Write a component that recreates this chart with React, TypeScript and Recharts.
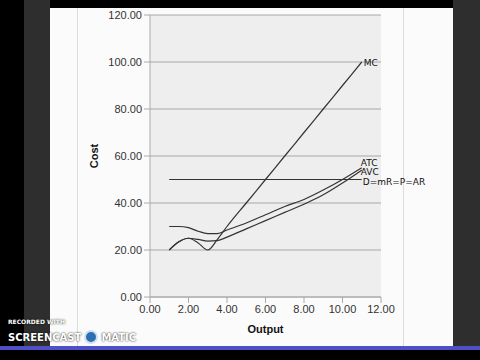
import { LineChart, Line, XAxis, YAxis, CartesianGrid } from "recharts";

// output levels used for the cost curves
const quantities = [1, 1.5, 2, 2.5, 3, 3.5, 4, 5, 6, 7, 8, 9, 10, 11];
const mcValues = [20, 23.5, 25, 23, 20, 24.5, 30, 40, 50, 60, 70, 80, 90, 100];
const atcValues = [30, 30, 29.5, 28, 27, 27, 28.5, 31.5, 35, 38.5, 41.5, 45.5, 50, 55];
const avcValues = [20, 23.5, 25, 24.5, 23.8, 24, 25.5, 29, 32.5, 36, 39.5, 43.5, 48.5, 54];
const demandQ = [1, 11];
const demandP = [50, 50];

const xTicks = [0, 2, 4, 6, 8, 10, 12];
const yTicks = [0, 20, 40, 60, 80, 100, 120];

const toPoints = (qs: number[], vals: number[]) => qs.map((q, i) => ({ q, y: vals[i] }));

const mcData = toPoints(quantities, mcValues);
const atcData = toPoints(quantities, atcValues);
const avcData = toPoints(quantities, avcValues);
const dData = toPoints(demandQ, demandP);

const sans = "'Liberation Sans', Arial, sans-serif";
const hand = { fontFamily: "'DejaVu Sans', sans-serif", fontSize: 9, fill: "#111" };

const endLabel = (text: string, last: number, dx: number, dy: number) => (props: any) => {
  if (props.index !== last) return null;
  return (
    <text x={props.x + dx} y={props.y + dy} style={hand}>
      {text}
    </text>
  );
};

const App = () => {
  return (
    <div
      style={{
        position: "fixed",
        left: 0,
        top: 0,
        width: 480,
        height: 360,
        background: "#000",
        overflow: "hidden",
      }}
    >
      <div style={{ position: "absolute", left: 24, top: 0, width: 26, height: 346, background: "#2e2e2e" }} />
      <div style={{ position: "absolute", left: 453, top: 0, width: 27, height: 346, background: "#2e2e2e" }} />
      <div style={{ position: "absolute", left: 50, top: 8, width: 403, height: 338, background: "#fbfbfb" }} />
      <div style={{ position: "absolute", left: 77, top: 8, width: 1, height: 338, background: "#dcdcdc" }} />
      <div style={{ position: "absolute", left: 403, top: 8, width: 1, height: 338, background: "#dcdcdc" }} />
      <div style={{ position: "absolute", left: 0, top: 346, width: 480, height: 4, background: "#4f4fc8" }} />

      <div style={{ position: "absolute", left: 50, top: 8 }}>
        <LineChart
          width={403}
          height={338}
          margin={{ top: 7, right: 72, bottom: 9, left: 40 }}
        >
          <CartesianGrid vertical={false} stroke="#a8a8a8" fill="#eeeeee" />
          <XAxis
            type="number"
            dataKey="q"
            domain={[0, 12]}
            ticks={xTicks}
            tickFormatter={(v: number) => v.toFixed(2)}
            height={40}
            stroke="#aaa"
            tick={{ fill: "#333", fontSize: 11, fontFamily: sans }}
            label={{
              value: "Output",
              position: "insideBottom",
              offset: 4,
              style: { fill: "#111", fontSize: 11, fontWeight: "bold", fontFamily: sans },
            }}
          />
          <YAxis
            type="number"
            domain={[0, 120]}
            ticks={yTicks}
            tickFormatter={(v: number) => v.toFixed(2)}
            width={60}
            stroke="#aaa"
            tick={{ fill: "#333", fontSize: 11, fontFamily: sans }}
            label={{
              value: "Cost",
              angle: -90,
              position: "insideLeft",
              offset: 4,
              style: { fill: "#111", fontSize: 11, fontWeight: "bold", fontFamily: sans, textAnchor: "middle" },
            }}
          />
          <Line
            data={dData}
            dataKey="y"
            type="linear"
            stroke="#333"
            strokeWidth={1.2}
            dot={false}
            isAnimationActive={false}
            label={endLabel("D=mR=P=AR", demandQ.length - 1, 1, 5)}
          />
          <Line
            data={mcData}
            dataKey="y"
            type="monotone"
            stroke="#333"
            strokeWidth={1.2}
            dot={false}
            isAnimationActive={false}
            label={endLabel("MC", quantities.length - 1, 2, 4)}
          />
          <Line
            data={atcData}
            dataKey="y"
            type="monotone"
            stroke="#333"
            strokeWidth={1.2}
            dot={false}
            isAnimationActive={false}
            label={endLabel("ATC", quantities.length - 1, -1, -2)}
          />
          <Line
            data={avcData}
            dataKey="y"
            type="monotone"
            stroke="#333"
            strokeWidth={1.2}
            dot={false}
            isAnimationActive={false}
            label={endLabel("AVC", quantities.length - 1, -1, 5)}
          />
        </LineChart>
      </div>

      <div
        style={{
          position: "absolute",
          left: 8,
          top: 318,
          color: "#fff",
          fontFamily: "'DejaVu Sans', sans-serif",
          fontWeight: "bold",
          fontSize: 6,
          textShadow: "0 0 2px #000",
        }}
      >
        RECORDED WITH
      </div>
      <div
        style={{
          position: "absolute",
          left: 8,
          top: 330,
          display: "flex",
          alignItems: "center",
          gap: 3,
          color: "#fff",
          fontFamily: "'DejaVu Sans', sans-serif",
          fontWeight: "bold",
          fontSize: 10,
          textShadow: "0 0 2px #000",
        }}
      >
        <span>SCREENCAST</span>
        <span
          style={{
            display: "inline-block",
            width: 10,
            height: 10,
            borderRadius: 7,
            border: "2px solid #cfe0f0",
            background: "#2d6fb0",
          }}
        />
        <span>MATIC</span>
      </div>
    </div>
  );
};

export default App;
